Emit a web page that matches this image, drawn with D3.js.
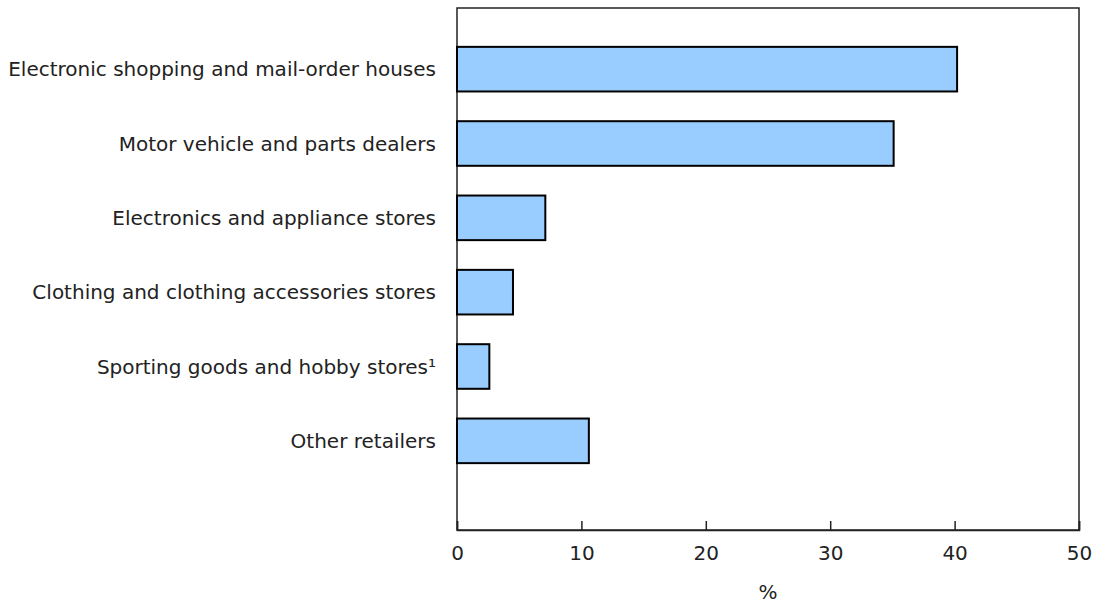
<!DOCTYPE html>
<html lang="en">
<head>
    <meta charset="UTF-8" />
    <script src="https://d3js.org/d3.v7.min.js"></script>
    <style>
        body { margin: 0; background: #fff; }
        svg { display: block; font-family: "DejaVu Sans", Verdana, sans-serif; }
    </style>
</head>
<body>
<svg></svg>
<script>
    // data
    const categories = [
        "Electronic shopping and mail-order houses",
        "Motor vehicle and parts dealers",
        "Electronics and appliance stores",
        "Clothing and clothing accessories stores",
        "Sporting goods and hobby stores\u00B9",
        "Other retailers"
    ];
    const values = [40.2, 35.1, 7.1, 4.5, 2.6, 10.6];
    const xTicks = [0, 10, 20, 30, 40, 50];
    const xTitle = "%";

    let width = 1093, height = 604;
    let plot = { left: 457, right: 1079, top: 8, bottom: 530 };
    let fontSize = 20;

    let svg = d3.select("svg")
        .attr("width", width)
        .attr("height", height);

    let x = d3.scaleLinear()
        .domain([0, 50])
        .range([plot.left, plot.right]);

    let y = d3.scaleBand()
        .domain(categories)
        .range([32, 478])
        .paddingInner(0.4)
        .paddingOuter(0.2);

    // frame
    svg.append("rect")
        .attr("x", plot.left)
        .attr("y", plot.top)
        .attr("width", plot.right - plot.left)
        .attr("height", plot.bottom - plot.top)
        .attr("fill", "none")
        .attr("stroke", "#222")
        .attr("stroke-width", 1.5);

    // bars
    svg.append("g")
        .selectAll("rect")
        .data(values)
        .enter()
        .append("rect")
        .attr("x", x(0))
        .attr("y", (d, i) => y(categories[i]))
        .attr("width", d => x(d) - x(0))
        .attr("height", y.bandwidth())
        .attr("fill", "#99ccff")
        .attr("stroke", "#000")
        .attr("stroke-width", 2);

    // category labels
    svg.append("g")
        .selectAll("text")
        .data(categories)
        .enter()
        .append("text")
        .attr("x", plot.left - 21)
        .attr("y", d => y(d) + y.bandwidth() / 2)
        .attr("dy", "0.35em")
        .attr("text-anchor", "end")
        .style("font-size", fontSize + "px")
        .attr("fill", "#222")
        .text(d => d);

    // x axis, ticks pointing inward
    let xAxis = d3.axisBottom(x)
        .tickValues(xTicks)
        .tickSize(-9)
        .tickPadding(16)
        .tickFormat(d3.format("d"));

    let gx = svg.append("g")
        .attr("transform", "translate(0," + plot.bottom + ")")
        .call(xAxis);
    gx.select(".domain").attr("stroke", "#222").attr("stroke-width", 1.5);
    gx.selectAll(".tick line").attr("stroke", "#222").attr("stroke-width", 1.5);
    gx.selectAll(".tick text")
        .style("font-size", fontSize + "px")
        .attr("font-family", "DejaVu Sans, Verdana, sans-serif")
        .attr("fill", "#222");

    svg.append("text")
        .attr("x", (plot.left + plot.right) / 2)
        .attr("y", 599)
        .attr("text-anchor", "middle")
        .style("font-size", fontSize + "px")
        .attr("fill", "#222")
        .text(xTitle);
</script>
</body>
</html>
